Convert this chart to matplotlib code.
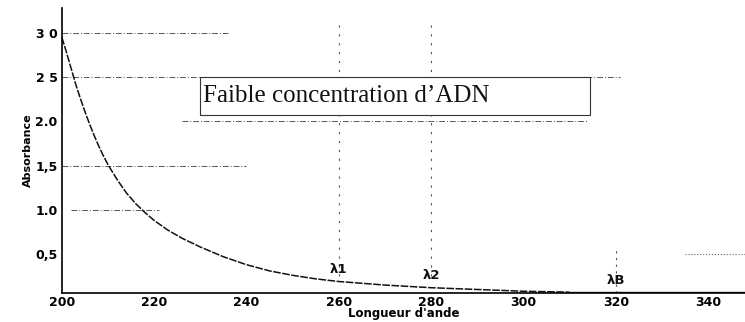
import matplotlib
matplotlib.use("Agg")
import matplotlib.pyplot as plt
from matplotlib.patches import Rectangle

# Data
wavelength = [200, 201, 202, 203, 204, 205, 206, 207, 208, 209, 210, 212, 214, 216, 218, 220, 223, 226, 230, 235, 240, 245, 250, 255, 260, 270, 280, 290, 300, 310]
absorbance = [2.95, 2.78, 2.60, 2.42, 2.26, 2.11, 1.97, 1.84, 1.72, 1.61, 1.51, 1.34, 1.19, 1.07, 0.97, 0.88, 0.77, 0.68, 0.58, 0.47, 0.38, 0.31, 0.26, 0.22, 0.19, 0.15, 0.12, 0.10, 0.08, 0.07]
baseline_x = [310, 348]
baseline_y = [0.07, 0.07]

x_ticks = [200, 220, 240, 260, 280, 300, 320, 340]
x_tick_labels = ["200", "220", "240", "260", "280", "300", "320", "340"]
y_ticks = [0.5, 1.0, 1.5, 2.0, 2.5, 3.0]
y_tick_labels = ["0,5", "1.0", "1,5", "2.0", "2 5", "3 0"]

lambda_labels = ["λ1", "λ2", "λB"]
lambda_x = [260, 280, 320]
lambda_y = [0.25, 0.18, 0.13]

# faint horizontal guide lines (y, xstart, xend)
guide_y = [3.0, 2.5, 2.0, 1.5, 1.0]
guide_x0 = [200, 200, 226, 200, 202]
guide_x1 = [236, 321, 314, 240, 221]

box_text = "Faible concentration d\u2019ADN"

fig = plt.figure(figsize=(7.45, 3.22), dpi=100)
ax = fig.add_axes([0.083, 0.09, 0.917, 0.885])
ax.set_xlim(200, 348)
ax.set_ylim(0.06, 3.28)

for y, a, b in zip(guide_y, guide_x0, guide_x1):
    ax.hlines(y, a, b, colors="#555555", linestyles=(0, (6, 2, 1, 2)), linewidth=0.7)
ax.hlines(0.5, 335, 348, colors="#666666", linestyles=":", linewidth=0.8)

for vx in [260, 280]:
    ax.vlines(vx, 0.25, 3.1, colors="#555555", linestyles=(0, (2, 6)), linewidth=0.8)
ax.vlines(320, 0.06, 0.55, colors="#555555", linestyles=(0, (2, 4)), linewidth=0.8)

ax.plot(wavelength, absorbance, color="#111111", linewidth=1.1, linestyle=(0, (5, 1)))
ax.plot(baseline_x, baseline_y, color="#222222", linewidth=1.0)

for lab, lx, ly in zip(lambda_labels, lambda_x, lambda_y):
    ax.text(lx, ly, lab, fontsize=9.5, fontweight="bold", ha="center", va="bottom", color="#111111")

ax.add_patch(Rectangle((230, 2.07), 84.5, 0.43, facecolor="white", edgecolor="#333333",
                       linewidth=0.8, zorder=3))
ax.text(230.6, 2.29, box_text, fontsize=18, family="Liberation Serif", ha="left", va="center",
        color="#111111", zorder=4)

ax.set_xticks(x_ticks)
ax.set_xticklabels(x_tick_labels)
ax.set_yticks(y_ticks)
ax.set_yticklabels(y_tick_labels)
ax.tick_params(axis="x", length=0, labelsize=9, pad=2)
ax.tick_params(axis="y", length=0, labelsize=9, pad=3)
for lab in ax.get_xticklabels() + ax.get_yticklabels():
    lab.set_fontweight("bold")

ax.set_xlabel("Longueur d'ande", fontsize=8.5, fontweight="bold", labelpad=-1)
ax.set_ylabel("Absorbance", fontsize=8, fontweight="bold", labelpad=2)

ax.spines["top"].set_visible(False)
ax.spines["right"].set_visible(False)
ax.spines["left"].set_linewidth(1.2)
ax.spines["bottom"].set_linewidth(1.2)

fig.savefig("out.png", dpi=100)
